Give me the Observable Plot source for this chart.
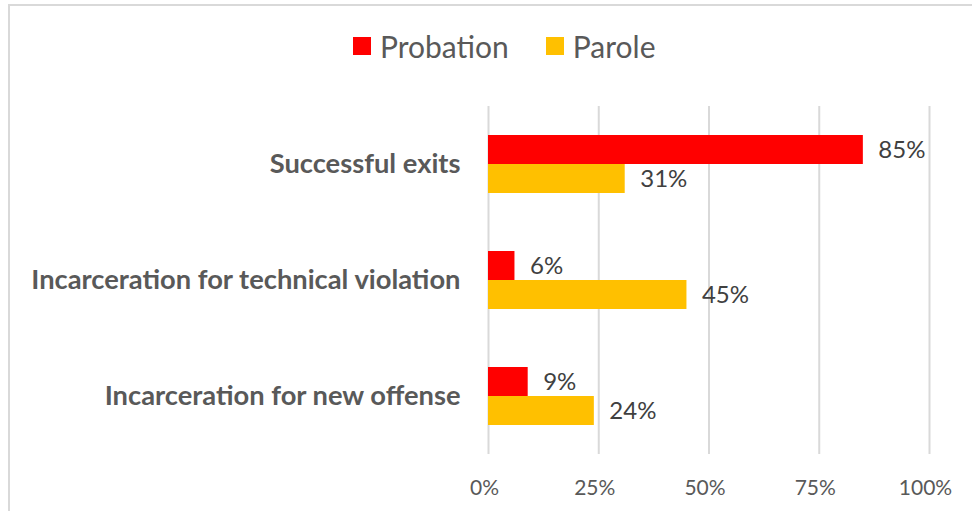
<!DOCTYPE html>
<html>
<head>
<meta charset="utf-8">
<script src="https://cdn.jsdelivr.net/npm/d3@7"></script>
<script src="https://cdn.jsdelivr.net/npm/@observablehq/plot@0.6"></script>
<style>
  html, body { margin: 0; padding: 0; background: #fff; }
  #wrap { position: relative; width: 972px; height: 511px; overflow: hidden; font-family: "Lato", sans-serif; }
  #frame { position: absolute; left: 8px; top: 4px; width: 1000px; height: 600px; border-top: 2px solid #d9d9d9; border-left: 2px solid #d9d9d9; box-sizing: border-box; }
  #legend { position: absolute; left: 353px; top: 28px; display: flex; align-items: center; color: #595959; font-size: 30px; }
  .item { display: flex; align-items: center; margin-right: 37px; }
  .sw { width: 18px; height: 18px; margin-right: 9px; }
  #chart { position: absolute; left: 0; top: 0; }
</style>
</head>
<body>
<div id="wrap">
  <div id="frame"></div>
  <div id="chart"></div>
  <div id="legend"></div>
</div>
<script>
const categories = ["Successful exits", "Incarceration for technical violation", "Incarceration for new offense"];
const series = ["Probation", "Parole"];
const probation = [85, 6, 9];
const parole = [31, 45, 24];
const tickValues = [0, 25, 50, 75, 100];
const colors = ["#FF0000", "#FFC000"];

const data = [];
categories.forEach((c, i) => {
  data.push({category: c, series: "Probation", value: probation[i]});
  data.push({category: c, series: "Parole", value: parole[i]});
});

const legend = document.getElementById("legend");
series.forEach((s, i) => {
  const it = document.createElement("div");
  it.className = "item";
  const sw = document.createElement("div");
  sw.className = "sw";
  sw.style.background = colors[i];
  const t = document.createElement("span");
  t.textContent = s;
  it.appendChild(sw); it.appendChild(t);
  legend.appendChild(it);
});

const chart = Plot.plot({
  width: 972,
  height: 511,
  marginTop: 105,
  marginBottom: 56,
  marginLeft: 488,
  marginRight: 43,
  style: {fontFamily: "Lato, sans-serif", background: "transparent", color: "#595959"},
  x: {domain: [0, 100]},
  y: {type: "band", domain: series, paddingInner: 0, paddingOuter: 1, axis: null},
  fy: {domain: categories, padding: 0},
  color: {domain: series, range: colors},
  marks: [
    Plot.ruleX(tickValues, {stroke: "#d9d9d9", strokeWidth: 2}),
    Plot.barX(data, {x: "value", y: "series", fy: "category", fill: "series"}),
    Plot.text(data, {x: "value", y: "series", fy: "category", text: d => d.value + "%", dx: 15, textAnchor: "start", fill: "#404040", fontSize: 24}),
    Plot.axisX({ticks: tickValues, tickFormat: d => d + "%", tickSize: 0, tickPadding: 26, dx: -4, fontSize: 21, fill: "#595959", label: null}),
    Plot.axisFy({anchor: "left", tickSize: 0, tickPadding: 28, fontSize: 27.3, fontWeight: "bold", fill: "#595959", label: null})
  ]
});
document.getElementById("chart").appendChild(chart);
</script>
</body>
</html>
